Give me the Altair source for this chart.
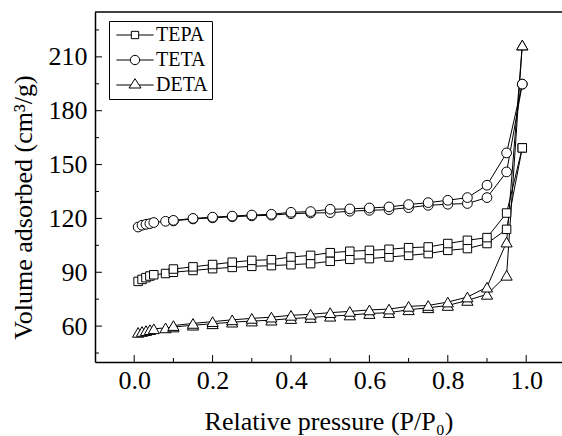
import altair as alt
import pandas as pd

SERIES = ["TEPA", "TETA", "DETA"]

P_ADS = [0.01, 0.02, 0.03, 0.04, 0.05, 0.08, 0.1, 0.15, 0.2, 0.25, 0.3, 0.35, 0.4,
         0.45, 0.5, 0.55, 0.6, 0.65, 0.7, 0.75, 0.8, 0.85, 0.9, 0.95, 0.99]
P_DES = [0.99, 0.95, 0.9, 0.85, 0.8, 0.75, 0.7, 0.65, 0.6, 0.55, 0.5, 0.45, 0.4,
         0.35, 0.3, 0.25, 0.2, 0.15, 0.1]

TEPA_ADS = [84.9, 86.0, 87.0, 87.9, 88.6, 89.3, 90.0, 91.0, 92.0, 92.7, 93.3, 93.7, 94.2,
            94.8, 96.1, 97.2, 97.6, 98.5, 99.4, 100.4, 102.2, 103.2, 106.0, 113.9, 159.3]
TEPA_DES = [159.3, 123.0, 109.3, 107.8, 106.0, 104.1, 103.7, 102.8, 102.2, 101.7, 100.9,
            99.4, 98.5, 97.0, 96.6, 95.6, 94.3, 93.0, 91.8]

TETA_ADS = [115.2, 116.2, 116.7, 117.1, 117.7, 118.4, 118.6, 119.7, 120.3, 120.9, 121.4,
            121.8, 122.6, 123.0, 123.2, 124.0, 124.5, 124.9, 126.0, 127.3, 127.9, 128.3,
            131.6, 145.9, 194.8]
TETA_DES = [194.8, 156.5, 138.5, 131.6, 130.1, 128.8, 127.7, 126.4, 125.8, 125.3, 125.1,
            123.8, 123.4, 122.3, 121.9, 121.3, 120.7, 120.0, 118.9]

DETA_ADS = [56.5, 57.0, 57.5, 58.0, 58.5, 59.0, 59.5, 60.5, 61.3, 62.2, 62.8, 63.3, 64.2,
            64.8, 65.5, 66.2, 67.0, 67.5, 69.1, 70.2, 71.5, 74.3, 77.7, 88.3, 216.6]
DETA_DES = [216.6, 106.8, 81.7, 76.2, 73.4, 71.5, 71.0, 69.5, 69.0, 68.2, 67.5, 66.6,
            66.0, 65.0, 64.3, 63.5, 62.5, 61.5, 60.3]

X_MAJOR = [0.0, 0.2, 0.4, 0.6, 0.8, 1.0]
X_MINOR = [0.1, 0.3, 0.5, 0.7, 0.9]
Y_MAJOR = [60, 90, 120, 150, 180, 210]
Y_MINOR = [45, 75, 105, 135, 165, 195, 225]

W, H = 467, 350
FONT = "Liberation Serif, Times New Roman, serif"

rows = []
for name, ads, des in [("TEPA", TEPA_ADS, TEPA_DES), ("TETA", TETA_ADS, TETA_DES),
                       ("DETA", DETA_ADS, DETA_DES)]:
    for i, (p, v) in enumerate(zip(P_ADS, ads)):
        rows.append(dict(series=name, branch="ads", p=p, v=v, k=i))
    for i, (p, v) in enumerate(zip(P_DES, des)):
        rows.append(dict(series=name, branch="des", p=p, v=v, k=100 + i))
df = pd.DataFrame(rows)
df["line"] = df["series"] + "-" + df["branch"]

xscale = alt.Scale(domain=[-0.1, -0.1 + W / 392.0], nice=False, zero=False)
yscale = alt.Scale(domain=[40, 235], nice=False, zero=False)

xaxis = alt.Axis(values=X_MAJOR, format=".1f", ticks=False, grid=False,
                 labelPadding=5, labelOverlap=False, labelFlush=False,
                 title="Relative pressure (P/P₀)", titleY=67,
                 titleBaseline="alphabetic")
yaxis = alt.Axis(values=Y_MAJOR, format="d", ticks=False, grid=False,
                 labelPadding=8, labelOverlap=False, labelFlush=False,
                 title="Volume adsorbed (cm³/g)", titleX=-72, titleY=195,
                 titleAngle=270, titleAlign="center", titleBaseline="middle")

X = alt.X("p:Q", scale=xscale, axis=xaxis)
Y = alt.Y("v:Q", scale=yscale, axis=yaxis)

lines = alt.Chart(df).mark_line(color="black", strokeWidth=1).encode(
    x=X, y=Y, detail="line:N", order="k:Q")

SHAPES = {"TEPA": ("square", 72), "TETA": ("circle", 95), "DETA": ("triangle-up", 125)}
point_layers = []
for name in SERIES:
    shp, sz = SHAPES[name]
    point_layers.append(
        alt.Chart(df[df["series"] == name]).mark_point(
            shape=shp, size=sz, filled=True, fill="white", stroke="black",
            strokeWidth=1, opacity=1).encode(x=X, y=Y))

LEGEND_PATHS = [
    "M-3.1,0H-0.61M0.61,0H3.1M-0.61,-0.61H0.61V0.61H-0.61Z",
    "M-3.1,0H-0.78M0.78,0H3.1M0.78,0A0.78,0.78,0,1,1,-0.78,0A0.78,0.78,0,1,1,0.78,0Z",
    "M-3.1,0H-0.68M0.68,0H3.1M0,-1.05L1,0.5L-1,0.5Z",
]
legend_layer = alt.Chart(pd.DataFrame({"series": SERIES})).mark_point(
    size=144, filled=False, color="black", strokeWidth=1, opacity=1,
    clip=True).encode(
    x=alt.value(-1000), y=alt.value(-1000),
    shape=alt.Shape("series:N", scale=alt.Scale(domain=SERIES, range=LEGEND_PATHS),
                    legend=alt.Legend(orient="none", legendX=14, legendY=9, title=None,
                                      padding=4, rowPadding=5, symbolSize=144,
                                      symbolOffset=12, labelOffset=11,
                                      labelFontSize=20,
                                      labelColor="black", strokeColor="black",
                                      fillColor="white", symbolStrokeWidth=1,
                                      symbolOpacity=1,
                                      symbolStrokeColor="black")))

xt_major = alt.Chart(pd.DataFrame({"p": X_MAJOR})).mark_rule(
    color="black", strokeWidth=1).encode(x=X, y=alt.value(H), y2=alt.value(H - 7))
xt_minor = alt.Chart(pd.DataFrame({"p": X_MINOR})).mark_rule(
    color="black", strokeWidth=1).encode(x=X, y=alt.value(H), y2=alt.value(H - 4))
yt_major = alt.Chart(pd.DataFrame({"v": Y_MAJOR})).mark_rule(
    color="black", strokeWidth=1).encode(y=Y, x=alt.value(0), x2=alt.value(7))
yt_minor = alt.Chart(pd.DataFrame({"v": Y_MINOR})).mark_rule(
    color="black", strokeWidth=1).encode(y=Y, x=alt.value(0), x2=alt.value(4))
top_border = alt.Chart(pd.DataFrame({"p": [0]})).mark_rule(
    color="black", strokeWidth=1.5).encode(x=alt.value(0), x2=alt.value(W), y=alt.value(0))

chart = alt.layer(
    lines, *point_layers, legend_layer, xt_major, xt_minor, yt_major, yt_minor, top_border
).properties(
    width=W, height=H,
    padding={"left": 95, "top": 12, "right": 0, "bottom": 74},
    autosize=alt.AutoSizeParams(type="none"),
    background="white",
).configure(font=FONT).configure_view(stroke=None).configure_axis(
    domainColor="black", domainWidth=1.5,
    labelFont=FONT, labelFontSize=26, labelColor="black",
    titleFont=FONT, titleFontSize=26, titleFontWeight="normal", titleColor="black",
).configure_legend(labelFont=FONT)

chart.save("out.html", embed_options={"renderer": "svg", "actions": False})
